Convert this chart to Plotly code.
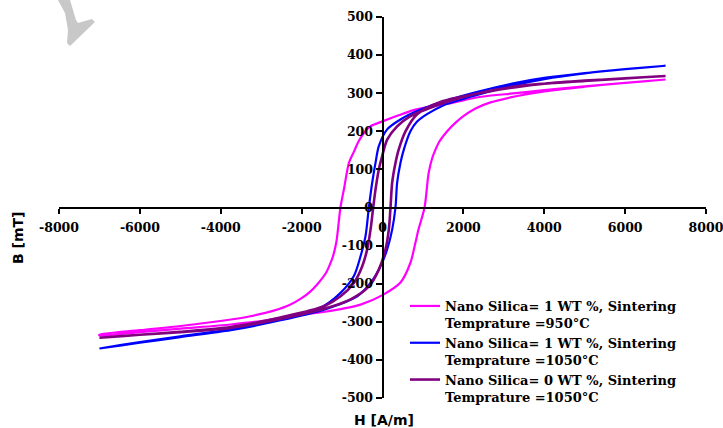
import plotly.graph_objects as go

# ---------------- data ----------------
# Nano Silica = 1 WT %, 950 C  (magenta)
m_up_H = [7000, 6000, 5000, 4000, 3300, 2400, 1700, 1200, 750, 400, 0, -300, -450, -600, -700,
          -830, -950, -1040, -1140, -1230, -1310, -1400, -1600, -1800, -2000, -2300, -2670,
          -3300, -3750, -5000, -6000, -7000]
m_up_B = [336, 327, 318, 308, 300, 290, 274, 265, 255, 242, 226, 213, 197, 172, 148,
          117, 50, 0, -90, -130, -152, -172, -200, -222, -238, -256, -270,
          -286, -294, -311, -322, -334]
m_lo_H = [-7000, -6000, -5000, -3750, -3000, -2000, -1500, -1000, -543, 0, 444, 691, 815, 889,
          1040, 1140, 1230, 1310, 1400, 1600, 1800, 2000, 2300, 2670, 3300, 4000, 5000, 6000, 7000]
m_lo_B = [-336, -327, -318, -307, -298, -281, -275, -266, -255, -230, -197, -145, -92, -58,
          0, 90, 130, 152, 172, 200, 222, 240, 260, 276, 292, 305, 317, 327, 336]

# Nano Silica = 1 WT %, 1050 C  (blue)
b_up_H = [7000, 6000, 5000, 4000, 3300, 2400, 1680, 940, 444, 115, -91, -173, -255, -337,
          -420, -543, -708, -1037, -1531, -2519, -3753, -5000, -6000, -7000]
b_up_B = [372, 363, 353, 340, 327, 305, 284, 257, 231, 205, 161, 117, 65, 0,
          -75, -128, -180, -224, -263, -294, -320, -338, -353, -370]
b_lo_H = [-7000, -6000, -5000, -3753, -2519, -1449, -625, -296, -49, 115, 239, 321, 362, 444,
          527, 691, 850, 1100, 1500, 2000, 2600, 3300, 4000, 5000, 6000, 7000]
b_lo_B = [-370, -355, -340, -322, -296, -268, -233, -198, -154, -110, -58, 0, 65, 117,
          152, 200, 225, 245, 268, 285, 303, 322, 337, 352, 363, 372]

# Nano Silica = 0 WT %, 1050 C  (purple)
p_up_H = [7000, 6000, 5000, 4000, 3300, 2420, 1680, 1185, 691, 362, 115, -8, -91, -173, -230,
          -296, -379, -501, -708, -1037, -1449, -2500, -3753, -5000, -6000, -7000]
p_up_B = [345, 339, 332, 325, 318, 301, 280, 262, 240, 213, 178, 135, 100, 47, 0,
          -58, -110, -154, -198, -233, -259, -288, -314, -326, -334, -342]
p_lo_H = [-7000, -6000, -5000, -3753, -2500, -1449, -790, -337, -91, 74, 156, 198, 239, 321,
          400, 568, 856, 1432, 2667, 3300, 4000, 5000, 6000, 7000]
p_lo_B = [-342, -334, -327, -316, -292, -266, -241, -207, -163, -110, -58, 0, 65, 117,
          152, 200, 245, 277, 305, 316, 325, 333, 339, 345]

series_names = [
    "Nano Silica= 1 WT %, Sintering<br>Temprature =950°C",
    "Nano Silica= 1 WT %, Sintering<br>Temprature =1050°C",
    "Nano Silica= 0 WT %, Sintering<br>Temprature =1050°C",
]
series_colors = ["#FF00FF", "#0000FF", "#800080"]
series_widths = [2.2, 2.2, 2.6]

x_ticks = [-8000, -6000, -4000, -2000, 0, 2000, 4000, 6000, 8000]
y_ticks = [-500, -400, -300, -200, -100, 0, 100, 200, 300, 400, 500]

# ---------------- figure ----------------
W, H = 723, 428
PL, PR, PT, PB = 59, 706, 17, 398          # plot area in page pixels
L, R, T, B = PL, W - PR, PT, H - PB
pw, ph = PR - PL, PB - PT

def px(x):
    return (x - PL) / pw

def py(y):
    return (PB - y) / ph

fig = go.Figure()
loops = [(m_up_H, m_up_B, m_lo_H, m_lo_B),
         (b_up_H, b_up_B, b_lo_H, b_lo_B),
         (p_up_H, p_up_B, p_lo_H, p_lo_B)]
for (uh, ub, lh, lb), name, col, wd in zip(loops, series_names, series_colors, series_widths):
    fig.add_trace(go.Scatter(x=uh + lh, y=ub + lb, mode="lines", name=name,
                             line=dict(color=col, width=wd, shape="spline", smoothing=0.8)))

tickfont = dict(family="DejaVu Serif", size=12.5, color="black", weight="bold")
fig.update_layout(
    width=W, height=H,
    margin=dict(l=L, r=R, t=T, b=B),
    paper_bgcolor="white", plot_bgcolor="white",
    showlegend=True,
    legend=dict(x=px(405), y=py(291), xanchor="left", yanchor="top",
                bgcolor="rgba(0,0,0,0)", font=dict(family="DejaVu Serif", size=13,
                                                    color="black", weight="bold"),
                valign="top", tracegroupgap=7, itemwidth=30),
    xaxis=dict(range=[-8000, 8000], tickvals=x_ticks, ticktext=[str(v) for v in x_ticks],
               anchor="free", position=0.5, showline=True, linecolor="black", linewidth=2,
               ticks="outside", ticklen=5, tickwidth=2, tickcolor="black",
               ticklabelstandoff=3, ticklabeloverflow="allow",
               showgrid=False, zeroline=False, tickfont=tickfont, automargin=False),
    yaxis=dict(range=[-500, 500], tickvals=y_ticks, ticktext=[str(v) for v in y_ticks],
               anchor="free", position=0.5, showline=True, linecolor="black", linewidth=2,
               ticks="outside", ticklen=6, tickwidth=2, tickcolor="black",
               ticklabeloverflow="allow",
               showgrid=False, zeroline=False, tickfont=tickfont, automargin=False),
    annotations=[
        dict(text="H [A/m]", x=px(384), y=py(420), xref="paper", yref="paper",
             xanchor="center", yanchor="middle",
             showarrow=False, font=dict(family="DejaVu Sans", size=14, color="black",
                                        weight="bold")),
        dict(text="B [mT]", x=px(18), y=py(238), xref="paper", yref="paper",
             xanchor="center", yanchor="middle",
             showarrow=False, textangle=-90,
             font=dict(family="DejaVu Sans", size=14, color="black", weight="bold")),
    ],
    shapes=[dict(type="path", xref="paper", yref="paper", line=dict(width=0),
                 fillcolor="#c8c8c8",
                 path="M {} {} L {} {} L {} {} L {} {} L {} {} L {} {} L {} {} L {} {} L {} {} L {} {} Z".format(
                     px(58), py(0), px(70), py(0), px(76), py(20), px(78), py(23),
                     px(92), py(19), px(95), py(22), px(70), py(46), px(67), py(43),
                     px(68), py(30), px(65), py(13)))],
)

fig.write_html("out.html",
               config={"displayModeBar": False},
               post_script="document.body.style.margin='0';document.body.style.overflow='hidden';")
